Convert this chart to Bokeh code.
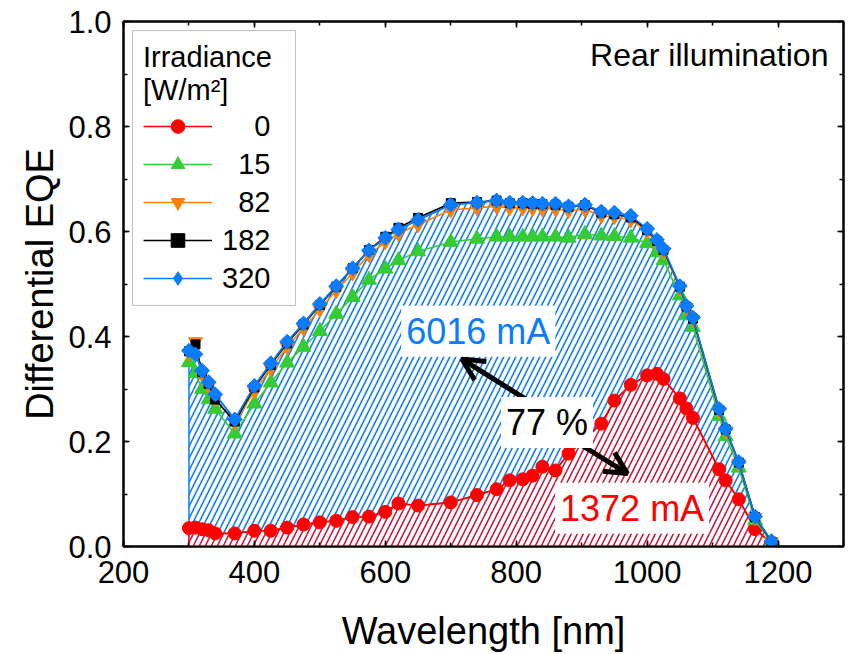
import numpy as np
from bokeh.plotting import figure
from bokeh.models import (Range1d, LinearAxis, SingleIntervalTicker, PrintfTickFormatter,
                          CustomJSTickFormatter, Legend, LegendItem, Label, Arrow, OpenHead)
from bokeh.embed import file_html
from bokeh.resources import INLINE

# ---------------- data ----------------
wavelength = [300, 310, 320, 330, 340, 370, 400, 425, 450, 475, 500, 525, 550, 575, 600,
              620, 650, 700, 740, 770, 790, 810, 825, 840, 860, 880, 905, 930, 950, 975,
              1000, 1015, 1025, 1050, 1060, 1070, 1110, 1120, 1140, 1165, 1190]

eqe_0 = [0.035, 0.036, 0.033, 0.031, 0.025, 0.025, 0.030, 0.030, 0.036, 0.042, 0.046,
         0.049, 0.056, 0.057, 0.066, 0.082, 0.078, 0.084, 0.098, 0.109, 0.126, 0.128,
         0.135, 0.152, 0.145, 0.177, 0.205, 0.234, 0.278, 0.308, 0.326, 0.329, 0.319,
         0.282, 0.263, 0.245, 0.147, 0.126, 0.090, 0.033, 0.006]

eqe_15 = [0.351, 0.330, 0.300, 0.280, 0.262, 0.215, 0.272, 0.312, 0.350, 0.380, 0.410,
          0.443, 0.475, 0.508, 0.529, 0.545, 0.562, 0.580, 0.586, 0.590, 0.590, 0.590,
          0.590, 0.590, 0.590, 0.588, 0.595, 0.592, 0.591, 0.588, 0.578, 0.560, 0.545,
          0.478, 0.440, 0.418, 0.248, 0.210, 0.150, 0.050, 0.008]

eqe_82 = [0.368, 0.390, 0.328, 0.305, 0.282, 0.236, 0.296, 0.339, 0.380, 0.416, 0.452,
          0.487, 0.521, 0.556, 0.580, 0.596, 0.613, 0.641, 0.645, 0.648, 0.645, 0.645,
          0.644, 0.643, 0.643, 0.640, 0.642, 0.630, 0.628, 0.622, 0.600, 0.578, 0.562,
          0.492, 0.455, 0.432, 0.258, 0.220, 0.158, 0.055, 0.009]

eqe_182 = [0.372, 0.385, 0.332, 0.310, 0.280, 0.238, 0.303, 0.346, 0.387, 0.423, 0.460,
           0.495, 0.530, 0.565, 0.590, 0.607, 0.626, 0.654, 0.656, 0.659, 0.654, 0.654,
           0.653, 0.652, 0.651, 0.647, 0.650, 0.636, 0.633, 0.627, 0.603, 0.582, 0.565,
           0.495, 0.457, 0.434, 0.260, 0.223, 0.160, 0.056, 0.009]

eqe_320 = [0.373, 0.366, 0.335, 0.313, 0.290, 0.242, 0.306, 0.349, 0.390, 0.425, 0.462,
           0.496, 0.530, 0.564, 0.588, 0.604, 0.622, 0.651, 0.655, 0.659, 0.655, 0.655,
           0.654, 0.653, 0.653, 0.648, 0.651, 0.638, 0.636, 0.630, 0.605, 0.584, 0.567,
           0.496, 0.458, 0.436, 0.262, 0.224, 0.161, 0.057, 0.010]

irradiance_labels = ["0", "15", "82", "182", "320"]

FONT = "Liberation Sans"
BLUE = "#0a7cff"
RED = "#ff0000"
GREEN = "#33cc33"
ORANGE = "#ff8000"

p = figure(width=848, height=654, x_range=Range1d(200, 1300), y_range=Range1d(0, 1),
           output_backend="svg", toolbar_location=None,
           min_border_left=123, min_border_right=5, min_border_top=21, min_border_bottom=106)
p.xgrid.visible = False
p.ygrid.visible = False
p.outline_line_color = "black"
p.outline_line_width = 2
p.background_fill_color = "white"
p.border_fill_color = "white"

xt = SingleIntervalTicker(interval=200, num_minor_ticks=2)
yt = SingleIntervalTicker(interval=0.2, num_minor_ticks=2)


def style_axis(ax):
    ax.axis_line_width = 2
    ax.axis_line_color = "black"
    ax.major_tick_in = 6
    ax.major_tick_out = 0
    ax.minor_tick_in = 4
    ax.minor_tick_out = 0
    ax.major_tick_line_width = 1.5
    ax.minor_tick_line_width = 1.5
    ax.major_label_text_font = FONT
    ax.major_label_text_font_size = "31px"
    ax.major_label_text_color = "black"
    ax.axis_label_text_font = FONT
    ax.axis_label_text_font_size = "38px"
    ax.axis_label_text_font_style = "normal"
    ax.axis_label_text_color = "black"


xa = p.xaxis[0]
xa.ticker = xt
style_axis(xa)
xa.axis_label = "Wavelength [nm]"
xa.major_label_standoff = 14
xa.axis_label_standoff = 24

ya = p.yaxis[0]
ya.ticker = yt
ya.formatter = PrintfTickFormatter(format="%.1f")
style_axis(ya)
ya.axis_label = "Differential EQE"
ya.major_label_standoff = 12
ya.axis_label_standoff = 4

empty = CustomJSTickFormatter(code="return ''")
top = LinearAxis(ticker=xt, formatter=empty, major_label_standoff=0)
style_axis(top)
top.major_label_text_font_size = "1px"
p.add_layout(top, "above")
right = LinearAxis(ticker=yt, formatter=empty, major_label_standoff=0)
style_axis(right)
right.major_label_text_font_size = "1px"
p.add_layout(right, "right")

# ---------------- hatched areas ----------------
xs_fill = [wavelength[0]] + wavelength + [wavelength[-1]]
p.patch(xs_fill, [0] + eqe_320 + [0], fill_color="white", hatch_pattern="/",
        hatch_color=BLUE, hatch_scale=12, hatch_weight=1.6, line_color=BLUE, line_width=1.5)
p.patch(xs_fill, [0] + eqe_0 + [0], fill_color="white", hatch_pattern="/",
        hatch_color="#d4143a", hatch_scale=12, hatch_weight=1.6, line_color=RED, line_width=1.5)

# ---------------- series ----------------
series = [
    (eqe_0, RED, "circle", 13, 0.0),
    (eqe_15, GREEN, "triangle", 15, 0.0),
    (eqe_82, ORANGE, "inverted_triangle", 14, 0.0),
    (eqe_182, "black", "square", 9, 0.0),
    (eqe_320, BLUE, "square", 10.5, np.pi / 4),
]
items = []
for (vals, col, mk, sz, ang), lab in zip(series, irradiance_labels):
    lr = p.line(wavelength, vals, line_color=col, line_width=1.6)
    sr = p.scatter(wavelength, vals, marker=mk, size=sz, angle=ang,
                   fill_color=col, line_color=col, line_width=1)
    rends = [lr, sr]
    if ang != 0.0:
        # legend swatch only (legend never rotates markers): an off-screen diamond marker
        dummy = p.scatter(x=[float("nan")], y=[float("nan")], marker="diamond", size=sz,
                          fill_color=col, line_color=col)
        rends = [lr, dummy]
    pad = "\u2007" * (3 - len(lab))
    items.append(LegendItem(label=pad + lab, renderers=rends))

# ---------------- arrows and annotations ----------------
head1 = OpenHead(size=22, line_width=5, line_color="black")
p.add_layout(Arrow(end=head1, x_start=860, y_start=0.245, x_end=717, y_end=0.357,
                   line_width=5, line_color="black"))
head2 = OpenHead(size=22, line_width=5, line_color="black")
p.add_layout(Arrow(end=head2, x_start=875, y_start=0.212, x_end=970, y_end=0.139,
                   line_width=5, line_color="black"))


def box_label(x, y, text, color):
    lab = Label(x=x, y=y, text=text, text_align="center", text_baseline="middle",
                text_font=FONT, text_font_size="36px", text_color=color,
                background_fill_color="white", background_fill_alpha=1.0, padding=5)
    p.add_layout(lab)


box_label(742, 0.41, "6016 mA", BLUE)
box_label(977, 0.073, "1372 mA", RED)
box_label(847, 0.236, "77 %", "black")

p.add_layout(Label(x=1277, y=0.937, text="Rear illumination", text_align="right",
                   text_baseline="middle", text_font=FONT, text_font_size="32px",
                   text_color="black"))

legend = Legend(items=items, location="top_left", title="Irradiance\n[W/m²]",
                margin=9, padding=10, spacing=4, glyph_width=69, glyph_height=34,
                label_height=34, label_width=63, label_standoff=10,
                label_text_font=FONT, label_text_font_size="29px", label_text_color="black",
                title_text_font=FONT, title_text_font_size="29px", title_text_color="black",
                title_text_font_style="normal", title_standoff=2,
                border_line_color="#888888", border_line_width=1.5,
                background_fill_color="white", background_fill_alpha=1.0)
p.add_layout(legend)

open("out.html", "w").write(file_html(p, INLINE))
